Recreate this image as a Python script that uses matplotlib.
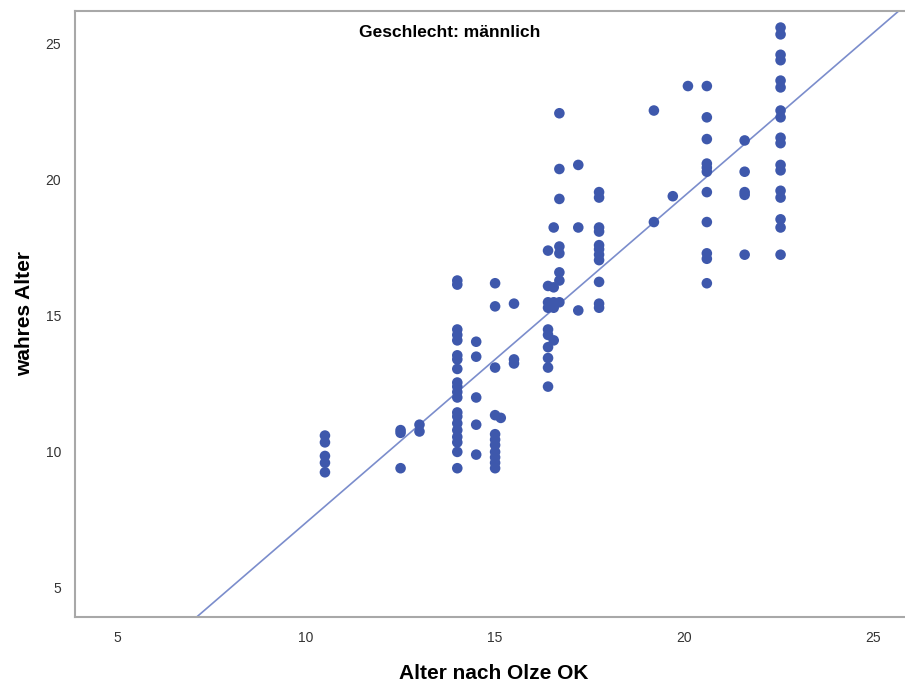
import numpy as np
import matplotlib
matplotlib.use("Agg")
import matplotlib.pyplot as plt

plt.rcParams["font.family"] = ["Liberation Sans", "DejaVu Sans"]

# ---------------------------------------------
# DATEN: Alter nach Olze (x) gegen wahres Alter (y)
# ---------------------------------------------
olze_10_5 = [10.6, 10.35, 9.85, 9.6, 9.25]
olze_12_5 = [10.8, 10.7, 9.4]
olze_13_0 = [11.0, 10.75]
olze_14_0 = [16.3, 16.15, 14.5, 14.3, 14.1, 13.55, 13.4, 13.05, 12.55, 12.4,
             12.2, 12.0, 11.45, 11.3, 11.05, 10.8, 10.55, 10.35, 10.0, 9.4]
olze_14_5 = [14.05, 13.5, 12.0, 11.0, 9.9]
olze_15_0 = [16.2, 15.35, 13.1, 11.35, 10.65, 10.45, 10.25, 10.0, 9.8, 9.6, 9.4]
olze_15_15 = [11.25]
olze_15_5 = [15.45, 13.4, 13.25]
olze_16_4 = [17.4, 16.1, 15.5, 15.3, 14.5, 14.3, 13.85, 13.45, 13.1, 12.4]
olze_16_55 = [18.25, 16.05, 15.5, 15.3, 14.1]
olze_16_7 = [22.45, 20.4, 19.3, 17.55, 17.3, 16.6, 16.3, 15.5]
olze_17_2 = [20.55, 18.25, 15.2]
olze_17_75 = [19.55, 19.35, 18.25, 18.1, 17.6, 17.45, 17.25, 17.05, 16.25, 15.45, 15.3]
olze_19_2 = [22.55, 18.45]
olze_19_7 = [19.4]
olze_20_1 = [23.45]
olze_20_6 = [23.45, 22.3, 21.5, 20.6, 20.45, 20.3, 19.55, 18.45, 17.3, 17.1, 16.2]
olze_21_6 = [21.45, 20.3, 19.55, 19.45, 17.25]
olze_22_55 = [25.6, 25.35, 24.6, 24.4, 23.65, 23.4, 22.55, 22.3, 21.55, 21.35,
              20.55, 20.35, 19.6, 19.35, 18.55, 18.25, 17.25]

groups = {
    10.5: olze_10_5, 12.5: olze_12_5, 13.0: olze_13_0, 14.0: olze_14_0,
    14.5: olze_14_5, 15.0: olze_15_0, 15.15: olze_15_15, 15.5: olze_15_5,
    16.4: olze_16_4, 16.55: olze_16_55, 16.7: olze_16_7, 17.2: olze_17_2,
    17.75: olze_17_75, 19.2: olze_19_2, 19.7: olze_19_7, 20.1: olze_20_1,
    20.6: olze_20_6, 21.6: olze_21_6, 22.55: olze_22_55,
}

# Regressionsgerade (Anpassung aus SPSS)
FIT_INTERCEPT = -4.6
FIT_SLOPE = 1.2

ticks = [5, 10, 15, 20, 25]

x = np.concatenate([[k] * len(v) for k, v in groups.items()])
y = np.concatenate([v for v in groups.values()])

# ---------------------------------------------
# PLOT
# ---------------------------------------------
fig = plt.figure(figsize=(9.05, 6.86), dpi=100)
ax = fig.add_axes([0.0829, 0.1006, 0.925, 0.8834])

xlim = (3.89, 26.03)
ylim = (3.93, 26.21)

xx = np.array(xlim)
ax.plot(xx, FIT_INTERCEPT + FIT_SLOPE * xx, color="#7B8DCC", lw=1.2, zorder=2)
ax.scatter(x, y, s=58, color="#3E58AC", edgecolors="none", zorder=3)

ax.set_xlim(*xlim)
ax.set_ylim(*ylim)
ax.set_xticks(ticks)
ax.set_yticks(ticks)
ax.tick_params(length=0, labelsize=10, labelcolor="#333333")
ax.tick_params(axis="x", pad=10)
ax.tick_params(axis="y", pad=10)

for side in ["left", "bottom", "top"]:
    ax.spines[side].set_color("#A8A8A8")
    ax.spines[side].set_linewidth(1.5)
ax.spines["right"].set_visible(False)

ax.set_xlabel("Alter nach Olze OK", fontsize=15, fontweight="bold", labelpad=14)
ax.set_ylabel("wahres Alter", fontsize=15, fontweight="bold", labelpad=8)
ax.text(0.448, 0.965, "Geschlecht: männlich", transform=ax.transAxes,
        ha="center", va="center", fontsize=12.5, fontweight="bold")

fig.savefig("out.png", dpi=100)
